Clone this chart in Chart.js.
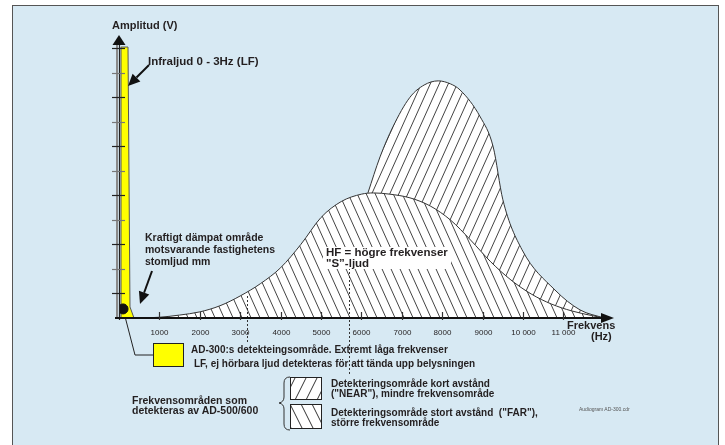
<!DOCTYPE html>
<html><head><meta charset="utf-8">
<script src="https://cdn.jsdelivr.net/npm/chart.js@4.4.1/dist/chart.umd.min.js"></script>
<style>
html,body{margin:0;padding:0;background:#fff;}
#wrap{position:relative;width:725px;height:445px;overflow:hidden;font-family:"Liberation Sans",Arial,Helvetica,sans-serif;color:#231f20;}
#panel{position:absolute;left:12px;top:5px;width:707px;height:445px;background:#d7e9f3;border:1.5px solid #555;box-sizing:border-box;}
#c{position:absolute;left:0;top:0;width:725px;height:445px;}
.t{position:absolute;font-weight:bold;white-space:pre;}
#hf{background:#fff;padding:0 3px;}
</style></head><body>
<div id="wrap">
<div id="panel"></div>
<canvas id="c" width="725" height="445"></canvas>
<div class="t" style="left:112px;top:19px;font-size:11px;line-height:13px;">Amplitud (V)</div>
<div class="t" style="left:148px;top:54px;font-size:11.5px;line-height:14px;">Infraljud 0 - 3Hz (LF)</div>
<div class="t" style="left:145px;top:231px;font-size:10.5px;line-height:12px;">Kraftigt dämpat område
motsvarande fastighetens
stomljud mm</div>
<div class="t" id="hf" style="left:323px;top:247px;font-size:11.5px;line-height:10.5px;padding-bottom:1px;">HF = högre frekvenser
"S”-ljud</div>
<div class="t" style="left:567px;top:319px;font-size:11px;line-height:12px;">Frekvens</div>
<div class="t" style="left:591px;top:330px;font-size:11px;line-height:12px;">(Hz)</div>
<div class="t" style="left:191px;top:343px;font-size:10px;line-height:13px;">AD-300:s detekteingsområde. Extremt låga frekvenser</div>
<div class="t" style="left:194px;top:357px;font-size:10px;line-height:13px;">LF, ej hörbara ljud detekteras för att tända upp belysningen</div>
<div class="t" style="left:132px;top:396px;font-size:10.5px;line-height:9.5px;">Frekvensområden som
detekteras av AD-500/600</div>
<div class="t" style="left:331px;top:378.5px;font-size:10px;line-height:10px;">Detekteringsområde kort avstånd
("NEAR"), mindre frekvensområde</div>
<div class="t" style="left:331px;top:407.5px;font-size:10px;line-height:10px;">Detekteringsområde stort avstånd  ("FAR"),
större frekvensområde</div>
<div class="t" style="left:579px;top:406px;font-size:5px;line-height:6px;font-weight:normal;color:#555;">Audiogram AD-300.cdr</div>
</div>
<script>
// ---- data ----
const farHz   = [500, 1000, 1500, 2000, 2500, 3000, 3500, 4000, 4500, 5000, 5500, 6000, 6300, 6700, 7200, 7700, 8200, 8700, 9200, 9700, 10200, 10700, 11200, 11700, 12000];
const farAmp  = [0, 0.03, 0.12, 0.25, 0.5, 0.9, 1.4, 2.05, 3.0, 4.1, 4.75, 5.05, 5.1, 5.05, 4.9, 4.57, 4.0, 3.18, 2.29, 1.55, 0.98, 0.57, 0.29, 0.1, 0];
const nearHz  = [5000, 5500, 6000, 6160, 6460, 6780, 7200, 7550, 7900, 8200, 8440, 8940, 9260, 9500, 9975, 10790, 11410, 12000];
const nearAmp = [0, 2.0, 4.3, 5.1, 6.57, 7.8, 9.0, 9.5, 9.67, 9.55, 9.3, 8.2, 6.98, 4.82, 2.78, 1.14, 0.33, 0];
const lfHz    = [50, 50, 223, 272, 371];
const lfAmp   = [0, 11.05, 11.05, 0.45, 0];
const dotHz   = [100];
const dotAmp  = [0.37];
const xTickValues = [1000, 2000, 3000, 4000, 5000, 6000, 7000, 8000, 9000, 10000, 11000];
const xTickLabels = ['1000', '2000', '3000', '4000', '5000', '6000', '7000', '8000', '9000', '10 000', '11 000'];
const yTickValues = [1, 2, 3, 4, 5, 6, 7, 8, 9, 10, 11];
const dashedHz = [3160, 5700];

const canvas = document.getElementById('c');
const ctx = canvas.getContext('2d');

function makeHatch(dir, w, h, col) {
  const c = document.createElement('canvas');
  c.width = w; c.height = h;
  const g = c.getContext('2d');
  g.fillStyle = '#fff'; g.fillRect(0, 0, w, h);
  g.strokeStyle = col; g.lineWidth = 1;
  g.beginPath();
  for (let i = -1; i <= 1; i++) {
    if (dir > 0) { g.moveTo(i * w, h); g.lineTo(i * w + w, 0); }
    else { g.moveTo(i * w, 0); g.lineTo(i * w + w, h); }
  }
  g.stroke();
  return ctx.createPattern(c, 'repeat');
}
const farPat = makeHatch(-1, 9, 20, '#444');
const nearPat = makeHatch(1, 9, 20, '#444');
const farLeg = makeHatch(-1, 11, 22, '#333');
const nearLeg = makeHatch(1, 11, 22, '#333');

const pts = (xs, ys) => xs.map((x, i) => ({x: x, y: ys[i]}));

function arrow(g, x1, y1, x2, y2, size, width, lw) {
  const a = Math.atan2(y2 - y1, x2 - x1);
  const bx = x2 - size * Math.cos(a), by = y2 - size * Math.sin(a);
  g.beginPath(); g.moveTo(x1, y1); g.lineTo(bx, by);
  g.lineWidth = lw; g.stroke();
  g.beginPath();
  g.moveTo(x2, y2);
  g.lineTo(bx + width * Math.sin(a), by - width * Math.cos(a));
  g.lineTo(bx - width * Math.sin(a), by + width * Math.cos(a));
  g.closePath(); g.fill();
}

const decor = {
  id: 'decor',
  beforeDatasetsDraw(chart) {
    const g = chart.ctx, xs = chart.scales.x, ys = chart.scales.y;
    g.save();
    const dx = xs.getPixelForValue(dotHz[0]), dy = ys.getPixelForValue(dotAmp[0]);
    g.strokeStyle = '#222'; g.lineWidth = 1;
    g.beginPath(); g.moveTo(dx, dy); g.lineTo(135, 355); g.lineTo(153, 355); g.stroke();
    g.restore();
  },
  afterDatasetsDraw(chart) {
    const g = chart.ctx, xs = chart.scales.x, ys = chart.scales.y;
    const x0 = xs.getPixelForValue(0), y0 = ys.getPixelForValue(0);
    const yTop = ys.getPixelForValue(ys.max), xEnd = xs.getPixelForValue(xs.max);
    g.save();
    // dashed guides
    g.strokeStyle = '#333'; g.lineWidth = 1; g.setLineDash([2, 2]);
    let px = Math.round(xs.getPixelForValue(dashedHz[0])) + 0.5;
    g.beginPath(); g.moveTo(px, 296); g.lineTo(px, 343); g.stroke();
    px = Math.round(xs.getPixelForValue(dashedHz[1])) + 0.5;
    g.beginPath(); g.moveTo(px, 268); g.lineTo(px, 375); g.stroke();
    g.setLineDash([]);
    // y axis
    g.strokeStyle = '#8a8a8a'; g.lineWidth = 2;
    g.beginPath(); g.moveTo(x0 - 2, yTop + 9); g.lineTo(x0 - 2, y0); g.stroke();
    g.strokeStyle = '#222'; g.lineWidth = 1.2;
    g.beginPath(); g.moveTo(x0 + 0.5, yTop + 9); g.lineTo(x0 + 0.5, y0 + 2); g.stroke();
    g.fillStyle = '#111';
    g.beginPath(); g.moveTo(x0, yTop - 1); g.lineTo(x0 + 6.5, yTop + 9); g.lineTo(x0 - 6.5, yTop + 9); g.closePath(); g.fill();
    yTickValues.forEach((v, i) => {
      const py = Math.round(ys.getPixelForValue(v)) + 0.5;
      g.strokeStyle = i % 2 === 0 ? '#222' : '#777'; g.lineWidth = 1.2;
      g.beginPath(); g.moveTo(x0 - 7, py); g.lineTo(x0 + 6, py); g.stroke();
    });
    // x axis
    g.strokeStyle = '#111'; g.lineWidth = 2;
    g.beginPath(); g.moveTo(x0 - 4, y0); g.lineTo(xEnd - 12, y0); g.stroke();
    g.beginPath(); g.moveTo(xEnd, y0); g.lineTo(xEnd - 13, y0 - 5); g.lineTo(xEnd - 13, y0 + 5); g.closePath(); g.fill();
    g.strokeStyle = '#333'; g.lineWidth = 1.2;
    g.fillStyle = '#231f20';
    g.font = '8px "Liberation Sans", Arial, sans-serif';
    g.textAlign = 'center'; g.textBaseline = 'middle';
    xTickValues.forEach((v, i) => {
      const p = Math.round(xs.getPixelForValue(v)) + 0.5;
      g.beginPath(); g.moveTo(p, y0 - 6); g.lineTo(p, y0 + 2); g.stroke();
      g.fillText(xTickLabels[i], p, y0 + 15);
    });
    // annotation arrows
    g.strokeStyle = '#111'; g.fillStyle = '#111';
    arrow(g, 149, 65, 128, 86, 12, 5.5, 2);
    arrow(g, 152, 271, 140, 304, 12, 5.5, 2);
    // yellow legend box
    g.fillStyle = '#ffff00'; g.fillRect(153, 343, 31, 24);
    g.strokeStyle = '#222'; g.lineWidth = 1; g.strokeRect(153.5, 343.5, 30, 23);
    // hatch legend boxes
    g.fillStyle = nearLeg; g.fillRect(290, 377, 32, 23);
    g.strokeRect(290.5, 377.5, 31, 22);
    g.fillStyle = farLeg; g.fillRect(290, 404, 32, 25);
    g.strokeRect(290.5, 404.5, 31, 24);
    // brace
    g.strokeStyle = '#333'; g.lineWidth = 1;
    g.beginPath();
    g.moveTo(290, 377); g.quadraticCurveTo(284, 377, 284, 383);
    g.lineTo(284, 397); g.quadraticCurveTo(284, 402, 279, 403);
    g.quadraticCurveTo(284, 404, 284, 409); g.lineTo(284, 424);
    g.quadraticCurveTo(284, 430, 290, 430);
    g.stroke();
    g.restore();
  }
};

new Chart(ctx, {
  type: 'line',
  data: {
    datasets: [
      {label: 'dot', data: pts(dotHz, dotAmp), showLine: false, pointRadius: 5, pointBackgroundColor: '#111', pointBorderColor: '#111', order: 0},
      {label: 'LF', data: pts(lfHz, lfAmp), fill: 'origin', backgroundColor: '#ffff00', borderColor: '#555', borderWidth: 1, pointRadius: 0, tension: 0, order: 1},
      {label: 'FAR', data: pts(farHz, farAmp), fill: 'origin', backgroundColor: farPat, borderColor: '#333', borderWidth: 1, pointRadius: 0, cubicInterpolationMode: 'monotone', order: 2},
      {label: 'NEAR', data: pts(nearHz, nearAmp), fill: 'origin', backgroundColor: nearPat, borderColor: '#333', borderWidth: 1, pointRadius: 0, cubicInterpolationMode: 'monotone', order: 3}
    ]
  },
  options: {
    responsive: false, animation: false, devicePixelRatio: 1,
    layout: {padding: {left: 119, top: 36, right: 111, bottom: 127}},
    plugins: {legend: {display: false}, tooltip: {enabled: false}},
    scales: {
      x: {type: 'linear', min: 0, max: 12250, display: false},
      y: {type: 'linear', min: 0, max: 11.5, display: false}
    }
  },
  plugins: [decor]
});
</script>
</body></html>
